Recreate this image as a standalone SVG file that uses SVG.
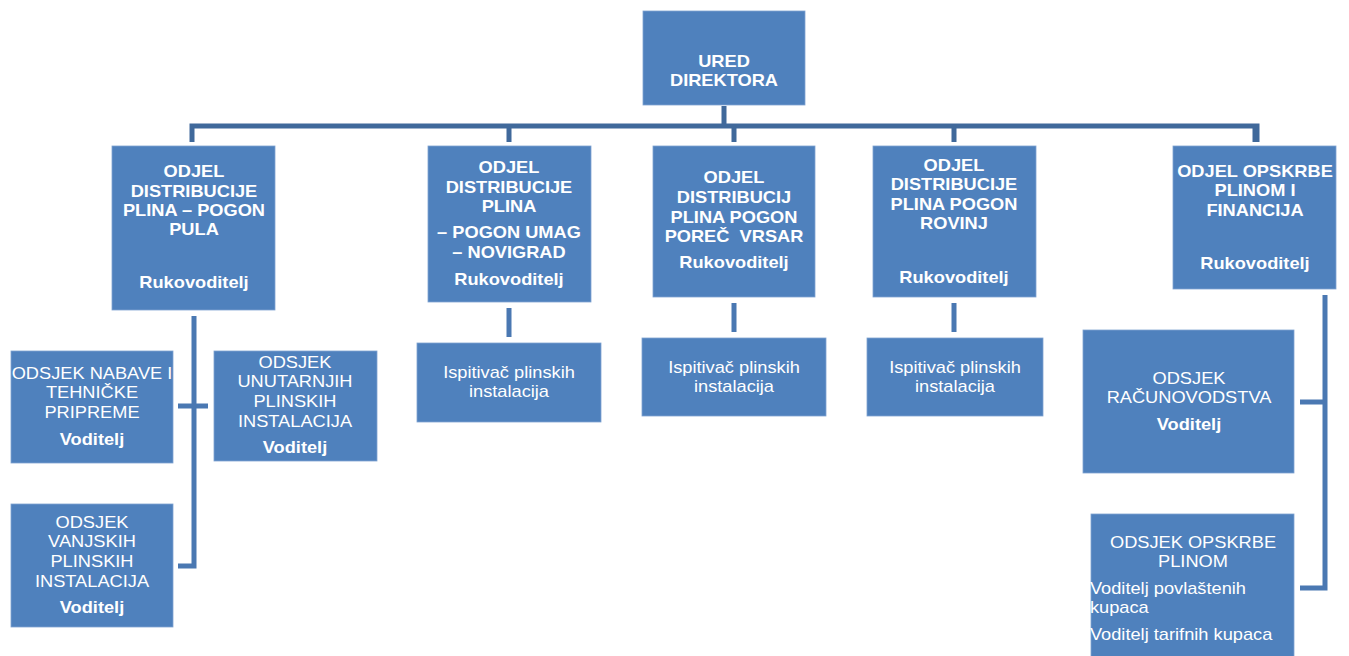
<svg xmlns="http://www.w3.org/2000/svg" width="1349" height="656" viewBox="0 0 1349 656">
<style>
.box{fill:#4F81BD;stroke:#7FA3D1;stroke-width:0.8}
text{font-family:"Liberation Sans",Arial,sans-serif;font-size:16px;fill:#FFFFFF;text-anchor:middle;white-space:pre}
.b{font-weight:bold}
.l{text-anchor:start}
.c1{stroke:#40699B;stroke-width:5;fill:none}
.c2{stroke:#4A78B2;stroke-width:5;fill:none}
</style>
<rect width="1349" height="656" fill="#FFFFFF"/>
<g id="connectors">
<path class="c1" d="M724 106V126M192 142V126H1257V142M509 126V142M734 126V142M954 126V142M1255 126V142"/>
<path class="c2" d="M509 308V337M734 303V332M954 303V332"/>
<path class="c2" d="M194 316V566H178M178 406H208"/>
<path class="c2" d="M1325 295V588H1300M1300 402H1325"/>
</g>
<g id="ured">
<rect class="box" x="643" y="11" width="162" height="94"/>
<g transform="matrix(1.14 0 0 1 -101.36 0)">
<text class="b" x="724" y="67">URED</text>
<text class="b" x="724" y="86">DIREKTORA</text>
</g>
</g>
<g id="pula">
<rect class="box" x="112" y="146" width="163" height="164"/>
<g transform="matrix(1.14 0 0 1 -27.16 0)">
<text class="b" x="194" y="177">ODJEL</text>
<text class="b" x="194" y="197">DISTRIBUCIJE</text>
<text class="b" x="194" y="216">PLINA – POGON</text>
<text class="b" x="194" y="235">PULA</text>
<text class="b" x="194" y="288">Rukovoditelj</text>
</g>
</g>
<g id="umag">
<rect class="box" x="428" y="146" width="163" height="156"/>
<g transform="matrix(1.14 0 0 1 -71.26 0)">
<text class="b" x="509" y="173">ODJEL</text>
<text class="b" x="509" y="193">DISTRIBUCIJE</text>
<text class="b" x="509" y="212">PLINA</text>
<text class="b" x="509" y="238">– POGON UMAG</text>
<text class="b" x="509" y="258">– NOVIGRAD</text>
<text class="b" x="509" y="285">Rukovoditelj</text>
</g>
</g>
<g id="porec">
<rect class="box" x="653" y="146" width="162" height="151"/>
<g transform="matrix(1.14 0 0 1 -102.76 0)">
<text class="b" x="734" y="183">ODJEL</text>
<text class="b" x="734" y="203">DISTRIBUCIJ</text>
<text class="b" x="734" y="223">PLINA POGON</text>
<text class="b" x="734" y="242">POREČ  VRSAR</text>
<text class="b" x="734" y="268">Rukovoditelj</text>
</g>
</g>
<g id="rovinj">
<rect class="box" x="873" y="146" width="163" height="151"/>
<g transform="matrix(1.14 0 0 1 -133.56 0)">
<text class="b" x="954" y="171">ODJEL</text>
<text class="b" x="954" y="190">DISTRIBUCIJE</text>
<text class="b" x="954" y="210">PLINA POGON</text>
<text class="b" x="954" y="229">ROVINJ</text>
<text class="b" x="954" y="283">Rukovoditelj</text>
</g>
</g>
<g id="opskrbe">
<rect class="box" x="1173" y="146" width="163" height="143"/>
<g transform="matrix(1.14 0 0 1 -175.7 0)">
<text class="b" x="1255" y="177">ODJEL OPSKRBE</text>
<text class="b" x="1255" y="196">PLINOM I</text>
<text class="b" x="1255" y="216">FINANCIJA</text>
<text class="b" x="1255" y="269">Rukovoditelj</text>
</g>
</g>
<g id="ispitivac-umag">
<rect class="box" x="417" y="343" width="184" height="79"/>
<g transform="matrix(1.14 0 0 1 -71.26 0)">
<text x="509" y="378">Ispitivač plinskih</text>
<text x="509" y="397">instalacija</text>
</g>
</g>
<g id="ispitivac-porec">
<rect class="box" x="642" y="338" width="184" height="78"/>
<g transform="matrix(1.14 0 0 1 -102.76 0)">
<text x="734" y="373">Ispitivač plinskih</text>
<text x="734" y="392">instalacija</text>
</g>
</g>
<g id="ispitivac-rovinj">
<rect class="box" x="867" y="338" width="176" height="78"/>
<g transform="matrix(1.14 0 0 1 -133.7 0)">
<text x="955" y="373">Ispitivač plinskih</text>
<text x="955" y="392">instalacija</text>
</g>
</g>
<g id="nabave">
<rect class="box" x="11" y="351" width="162" height="112"/>
<g transform="matrix(1.14 0 0 1 -12.88 0)">
<text x="92" y="379">ODSJEK NABAVE I</text>
<text x="92" y="398">TEHNIČKE</text>
<text x="92" y="418">PRIPREME</text>
<text class="b" x="92" y="445">Voditelj</text>
</g>
</g>
<g id="unutarnjih">
<rect class="box" x="214" y="351" width="163" height="110"/>
<g transform="matrix(1.14 0 0 1 -41.3 0)">
<text x="295" y="368">ODSJEK</text>
<text x="295" y="387">UNUTARNJIH</text>
<text x="295" y="407">PLINSKIH</text>
<text x="295" y="427">INSTALACIJA</text>
<text class="b" x="295" y="453">Voditelj</text>
</g>
</g>
<g id="vanjskih">
<rect class="box" x="11" y="504" width="162" height="123"/>
<g transform="matrix(1.14 0 0 1 -12.88 0)">
<text x="92" y="528">ODSJEK</text>
<text x="92" y="547">VANJSKIH</text>
<text x="92" y="567">PLINSKIH</text>
<text x="92" y="587">INSTALACIJA</text>
<text class="b" x="92" y="613">Voditelj</text>
</g>
</g>
<g id="racunovodstva">
<rect class="box" x="1083" y="330" width="211" height="143"/>
<g transform="matrix(1.14 0 0 1 -166.46 0)">
<text x="1189" y="384">ODSJEK</text>
<text x="1189" y="403">RAČUNOVODSTVA</text>
<text class="b" x="1189" y="430">Voditelj</text>
</g>
</g>
<g id="opskrbe-plinom">
<rect class="box" x="1091" y="514" width="203" height="150"/>
<g transform="matrix(1.14 0 0 1 -167.02 0)">
<text x="1193" y="548">ODSJEK OPSKRBE</text>
<text x="1193" y="567">PLINOM</text>
<text class="l" x="1102.6" y="594">Voditelj povlaštenih</text>
<text class="l" x="1102.6" y="613">kupaca</text>
<text class="l" x="1102.6" y="640">Voditelj tarifnih kupaca</text>
</g>
</g>
</svg>
